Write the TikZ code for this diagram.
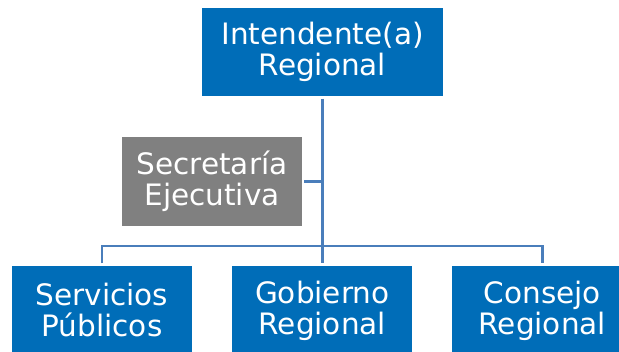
\documentclass[tikz,border=0pt]{standalone}
\usepackage{fontspec}
\setmainfont{DejaVu Sans}
\definecolor{boxblue}{RGB}{0,109,184}
\definecolor{boxgray}{RGB}{128,128,128}
\definecolor{linkblue}{RGB}{74,126,187}
\tikzset{
  orgbox/.style={rectangle, fill=boxblue, text=white, align=center,
    minimum width=180pt, minimum height=89pt, inner sep=0pt,
    font=\fontsize{29.5}{31}\selectfont},
  graybox/.style={orgbox, fill=boxgray},
  link/.style={draw=linkblue, line width=2.4pt}
}
\begin{document}
\begin{tikzpicture}[x=1pt,y=-1pt]
\useasboundingbox (0,0) rectangle (619,352);
\clip (0,0) rectangle (619,352);
\node[orgbox, minimum width=241pt, minimum height=88pt] (top) at (322.5,52) {Intendente(a)\\Regional};
\node[graybox] (sec) at (212,181.5) {Secretaría\\Ejecutiva};
\node[orgbox] (b1) at (102,310.5) {Servicios\\Públicos};
\node[orgbox] (b2) at (322.3,310.5) {Gobierno\\Regional};
\node[orgbox] (b3) at (542.3,310.5) {Consejo\\Regional};
\coordinate (h) at (322.3,246);
\draw[link, shorten <=2.5pt, shorten >=2.5pt] (top.south -| b2.north) -- (b2.north);
\draw[link, shorten <=2pt] (sec.east) -- (sec.east -| h);
\draw[link, shorten <=2.5pt, shorten >=2.5pt] (b1.north) -- (b1.north |- h) -- (b3.north |- h) -- (b3.north);
\end{tikzpicture}
\end{document}
